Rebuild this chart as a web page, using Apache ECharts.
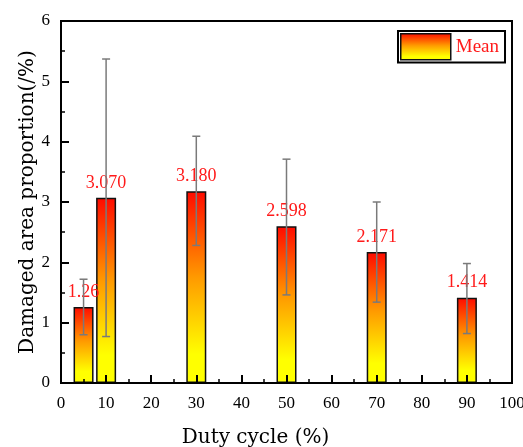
<!DOCTYPE html>
<html>
<head>
<meta charset="utf-8">
<script src="https://cdn.jsdelivr.net/npm/echarts@6/dist/echarts.min.js"></script>
<style>html,body{margin:0;padding:0;background:#fff;}#c{width:523px;height:447px;}</style>
</head>
<body>
<div id="c"></div>
<script>
const dutyCycles = [5, 10, 30, 50, 70, 90];
const meanValues = [1.26, 3.070, 3.180, 2.598, 2.171, 1.414];
const valueLabels = ['1.26', '3.070', '3.180', '2.598', '2.171', '1.414'];
const errLow = [0.80, 0.77, 2.28, 1.46, 1.34, 0.82];
const errHigh = [1.72, 5.37, 4.09, 3.71, 3.00, 1.98];

const barData = dutyCycles.map((x, i) => [x, meanValues[i]]);
const errData = dutyCycles.map((x, i) => [x, errLow[i], errHigh[i]]);

const chart = echarts.init(document.getElementById('c'), null, {renderer: 'canvas'});
const numFont = 'Liberation Serif';
const titleFont = 'DejaVu Serif';
const grad = new echarts.graphic.LinearGradient(0, 0, 0, 1, [
  {offset: 0, color: '#ff0a00'},
  {offset: 0.45, color: '#ff9a00'},
  {offset: 0.85, color: '#ffff00'},
  {offset: 1, color: '#ffff00'}
]);

chart.setOption({
  animation: false,
  grid: {left: 61, right: 11, top: 21, bottom: 64, outerBoundsMode: 'none', containLabel: false,
         show: true, borderColor: '#000', borderWidth: 2, backgroundColor: 'transparent'},
  legend: {
    data: ['Mean'],
    left: 398, top: 31,
    icon: 'rect',
    itemWidth: 50, itemHeight: 26, itemGap: 4,
    padding: [2, 6, 2, 2],
    borderColor: '#000', borderWidth: 2,
    textStyle: {color: '#ff1a1a', fontFamily: numFont, fontSize: 19},
    itemStyle: {borderColor: '#111', borderWidth: 1.5}
  },
  xAxis: {
    type: 'value', min: 0, max: 100, interval: 10, z: 5,
    name: 'Duty cycle (%)', nameLocation: 'middle', nameGap: 45, nameMoveOverlap: false,
    nameTextStyle: {fontFamily: titleFont, fontSize: 20, color: '#000', padding: [0, 62, 0, 0]},
    axisLine: {show: true, onZero: false, lineStyle: {color: '#000', width: 2}},
    axisTick: {show: true, inside: true, length: 8, lineStyle: {color: '#000', width: 2}},
    minorTick: {show: true, splitNumber: 2, length: 4, lineStyle: {color: '#000', width: 1.5}},
    axisLabel: {fontFamily: numFont, fontSize: 17, color: '#000', margin: 12},
    splitLine: {show: false}
  },
  yAxis: {
    type: 'value', min: 0, max: 6, interval: 1, z: 5,
    name: 'Damaged area proportion(/%)', nameLocation: 'middle', nameGap: 23, nameMoveOverlap: false,
    nameTextStyle: {fontFamily: titleFont, fontSize: 20, color: '#000'},
    axisLine: {show: true, lineStyle: {color: '#000', width: 2}},
    axisTick: {show: true, inside: true, length: 8, lineStyle: {color: '#000', width: 2}},
    minorTick: {show: true, splitNumber: 2, length: 4, lineStyle: {color: '#000', width: 1.5}},
    axisLabel: {fontFamily: numFont, fontSize: 17, color: '#000', margin: 11},
    splitLine: {show: false}
  },
  series: [
    {
      name: 'Mean', type: 'bar', data: barData, barWidth: 20,
      itemStyle: {color: grad, borderColor: '#111', borderWidth: 1.5},
      label: {
        show: true, position: 'top', distance: 6,
        formatter: p => valueLabels[p.dataIndex],
        color: '#ff1a1a', fontFamily: numFont, fontSize: 18
      },
      z: 2
    },
    {
      name: 'err', type: 'custom', data: errData,
      encode: {x: 0, y: [1, 2]},
      z: 3,
      renderItem: function (params, api) {
        const x = api.value(0);
        const top = api.coord([x, api.value(2)]);
        const bot = api.coord([x, api.value(1)]);
        const hw = 4;
        const st = {stroke: '#7a7a7a', lineWidth: 1.5};
        return {
          type: 'group',
          children: [
            {type: 'line', shape: {x1: top[0], y1: top[1], x2: bot[0], y2: bot[1]}, style: st},
            {type: 'line', shape: {x1: top[0] - hw, y1: top[1], x2: top[0] + hw, y2: top[1]}, style: st},
            {type: 'line', shape: {x1: bot[0] - hw, y1: bot[1], x2: bot[0] + hw, y2: bot[1]}, style: st}
          ]
        };
      }
    }
  ]
});
</script>
</body>
</html>
